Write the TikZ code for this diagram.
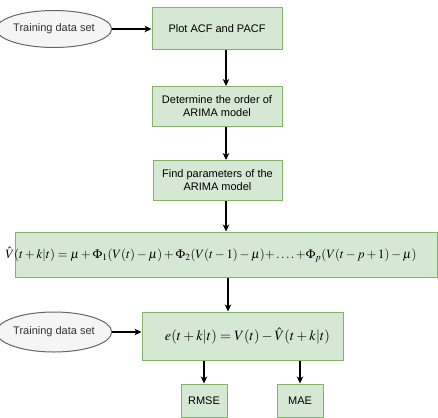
\documentclass[tikz,border=0pt]{standalone}
\usepackage{mathptmx}
\usepackage[no-math]{fontspec}
\usepackage{graphicx}
\newfontfamily\arialf{Liberation Sans}
\usetikzlibrary{arrows.meta,shapes.geometric}
\definecolor{boxfill}{HTML}{D5E8D4}
\definecolor{boxline}{HTML}{82B366}
\definecolor{ellfill}{HTML}{F5F5F5}
\definecolor{ellline}{HTML}{666666}
\definecolor{elltext}{HTML}{333333}
\tikzset{
  greenbox/.style={draw=boxline, fill=boxfill, line width=1pt, rectangle, inner sep=0pt,
    align=center, font=\arialf\fontsize{11}{13}\selectfont},
  databox/.style={draw=ellline, fill=ellfill, line width=1pt, ellipse, inner sep=0pt,
    text=elltext, font=\arialf\fontsize{11}{13}\selectfont},
  arr/.style={line width=1.3pt, -{Stealth[length=7pt,width=6.5pt,inset=2pt]}},
}
\begin{document}
\begin{tikzpicture}[x=1pt,y=1pt]
\useasboundingbox (0,0) rectangle (438,-417);
\node[databox, minimum width=96pt, minimum height=37pt] (e1) at (54,-29) {Training data set};
\node[greenbox, minimum width=130pt, minimum height=42pt] (b1) at (217,-29) {Plot ACF and PACF};
\node[greenbox, minimum width=130pt, minimum height=40pt] (b2) at (217,-106.5) {Determine the order of\\ARIMA model};
\node[greenbox, minimum width=129pt, minimum height=40pt] (b3) at (217.5,-180.5) {Find parameters of the\\ARIMA model};
\node[greenbox, minimum width=422pt, minimum height=45pt] (b4) at (226,-254.5)
  {\hspace*{-30pt}\raisebox{1pt}{\resizebox{411pt}{!}{$\hat{V}(t+k|t)=\mu+\Phi_1(V(t)-\mu)+\Phi_2(V(t-1)-\mu)\mathord{+}\ldots.\,\mathord{+}\Phi_p(V(t-p+1)-\mu)$}}};
\node[databox, minimum width=97pt, minimum height=40pt] (e2) at (54,-332) {Training data set};
\node[greenbox, minimum width=201pt, minimum height=48pt] (b5) at (242.5,-336)
  {\hspace*{10pt}\raisebox{-2pt}{\resizebox{165pt}{!}{$e(t+k|t)=V(t)-\hat{V}(t+k|t)$}}};
\node[greenbox, minimum width=46pt, minimum height=33pt] (r1) at (204,-400.5) {RMSE};
\node[greenbox, minimum width=46pt, minimum height=33pt] (r2) at (300,-400.5) {MAE};
\draw[arr] (e1.east) -- (b1.west);
\draw[arr] (b1.south -| b4.north) -- (b2.north -| b4.north);
\draw[arr] (b2.south -| b4.north) -- (b3.north -| b4.north);
\draw[arr] (b3.south -| b4.north) -- (b4.north);
\draw[arr] ([xshift=2pt]b4.south) -- ([xshift=2pt]b4.south |- b5.north);
\draw[arr] (e2.east) -- (e2.east -| b5.west);
\draw[arr] (r1.north |- b5.south) -- (r1.north);
\draw[arr] (r2.north |- b5.south) -- (r2.north);
\end{tikzpicture}
\end{document}
